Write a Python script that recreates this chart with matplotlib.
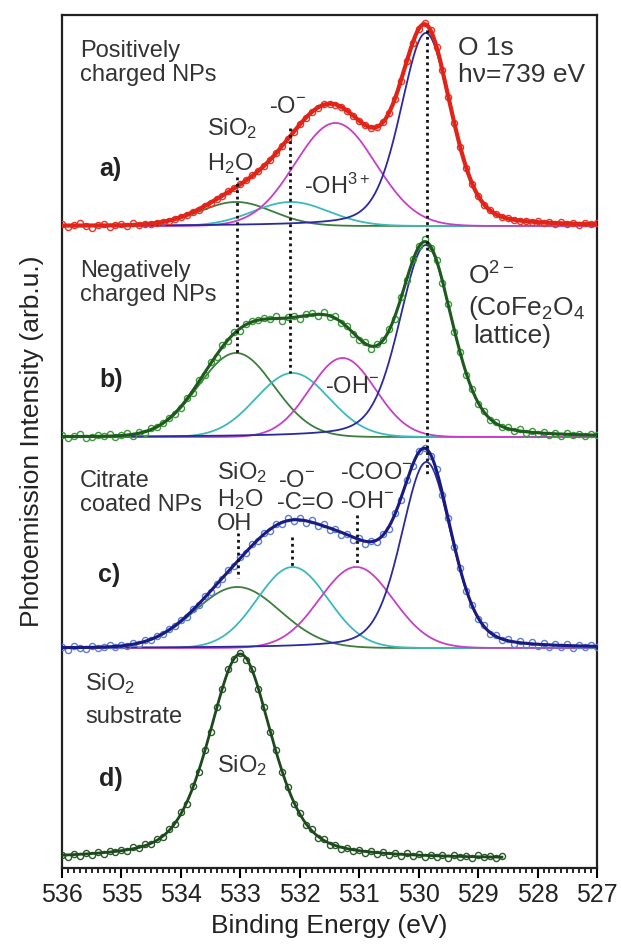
import numpy as np
import matplotlib
matplotlib.use('Agg')
import matplotlib.pyplot as plt
from matplotlib.ticker import MultipleLocator

plt.rcParams['font.family'] = ['Liberation Sans', 'DejaVu Sans']
plt.rcParams['mathtext.fontset'] = 'custom'
plt.rcParams['mathtext.rm'] = 'Liberation Sans'
plt.rcParams['mathtext.it'] = 'Liberation Sans:italic'
plt.rcParams['mathtext.bf'] = 'Liberation Sans:bold'

# measured O 1s spectra, 0.1 eV steps from 536.0 eV down
energy = np.linspace(536.0, 527.0, 91)
energy_d = np.linspace(536.0, 528.6, 75)

data_a = [2, -1, 1, 3, 0, -2, 1, 2, -1, 1,
          2, 0, 3, 1, 2, 2, 3, 4, 5, 7,
          9, 11, 14, 16, 20, 23, 27, 30, 35, 38,
          42, 46, 51, 55, 60, 66, 73, 80, 87, 94,
          102, 108, 114, 118, 122, 122, 121, 119, 115, 110,
          105, 101, 98, 99, 104, 113, 127, 145, 165, 183,
          197, 203, 196, 179, 156, 129, 103, 79, 58, 42,
          30, 21, 16, 12, 9, 8, 6, 5, 5, 4,
          5, 3, 4, 2, 4, 2, 3, 1, 3, 2,
          3]
data_b = [2, -1, 1, 3, -1, 0, 2, 1, 3, 0,
          2, 4, 1, 5, 4, 9, 10, 14, 19, 23,
          29, 39, 44, 57, 62, 75, 80, 92, 96, 105,
          106, 113, 116, 117, 119, 118, 121, 116, 120, 121,
          118, 123, 124, 121, 125, 120, 121, 114, 111, 103,
          97, 95, 88, 93, 97, 108, 118, 140, 157, 178,
          191, 198, 189, 177, 154, 133, 105, 85, 62, 48,
          33, 26, 17, 15, 10, 10, 6, 8, 4, 6,
          3, 5, 2, 4, 1, 4, 2, 3, 1, 3,
          2]
data_c = [1, -2, 2, 0, -1, 2, 0, 1, 3, 1,
          3, 2, 5, 4, 8, 8, 12, 14, 19, 22,
          28, 31, 39, 43, 52, 56, 64, 69, 78, 82,
          91, 95, 104, 107, 115, 117, 124, 124, 130, 127,
          130, 125, 128, 122, 124, 118, 119, 113, 114, 108,
          110, 104, 107, 106, 114, 119, 135, 148, 168, 182,
          197, 200, 192, 179, 153, 130, 101, 80, 57, 43,
          29, 23, 14, 13, 8, 9, 4, 7, 3, 6,
          2, 5, 1, 4, 1, 4, 0, 3, 1, 3,
          1]
data_d = [4, 2, 5, 3, 6, 4, 7, 5, 8, 7,
          9, 8, 12, 11, 15, 15, 20, 22, 30, 35,
          47, 55, 73, 87, 109, 127, 152, 170, 190, 200,
          206, 199, 190, 170, 152, 127, 109, 87, 72, 55,
          46, 34, 30, 21, 20, 14, 14, 10, 11, 8,
          9, 6, 8, 5, 7, 4, 6, 3, 6, 3,
          5, 2, 4, 2, 4, 1, 4, 2, 3, 1,
          4, 2, 3, 1, 3]

# fitted components: SiO2/H2O, -O-, -OH, O2- lattice
centers_a = [533.07, 532.15, 531.40, 529.88]
heights_a = [24, 24, 103, 193]
fwhm_a = [1.45, 1.5, 1.6, 1.0]
centers_b = [533.07, 532.12, 531.28, 529.88]
heights_b = [84, 64, 79, 192]
fwhm_b = [1.5, 1.45, 1.3, 1.05]
centers_c = [533.05, 532.12, 531.05, 529.87]
heights_c = [61, 81, 81, 186]
fwhm_c = [1.7, 1.4, 1.45, 1.0]
lorentz_frac = [0, 0, 0, 0.3]
center_d, height_d, fwhm_d, lorentz_d = 533.0, 205, 1.25, 0.45

offsets = [642, 431, 220, 9]
comp_colors = ['#3d7d3d', '#3cb9b9', '#c63fc6', '#2a2a9e']


def pvoigt(x, c, h, w, eta):
    t = (x - c) / w
    return h * ((1 - eta) * np.exp(-4 * np.log(2) * t ** 2) + eta / (1 + 4 * t ** 2))


fig = plt.figure(figsize=(6.21, 9.48), dpi=100)
ax = fig.add_axes([0.0998, 0.0844, 0.8616, 0.8998])
xf = np.linspace(527.0, 536.0, 901)

panels = [(data_a, centers_a, heights_a, fwhm_a, '#e8342a', '#e02418', 3.0),
          (data_b, centers_b, heights_b, fwhm_b, '#3a9a3a', '#1e5a1e', 2.2),
          (data_c, centers_c, heights_c, fwhm_c, '#5b7fd6', '#1a1a80', 2.2)]
for (data, cen, hgt, fw, dcol, fcol, flw), off in zip(panels, offsets):
    total = np.zeros_like(xf)
    for k in range(4):
        comp = pvoigt(xf, cen[k], hgt[k], fw[k], lorentz_frac[k])
        total += comp
        ax.plot(xf, off + comp, color=comp_colors[k], lw=1.3, zorder=2)
    ax.plot(energy, off + np.array(data), 'o', mfc='none', mec=dcol, ms=4.4, mew=1.0, zorder=3)
    ax.plot(xf, off + total, color=fcol, lw=flw, zorder=4)

xd = np.linspace(528.6, 536.0, 741)
ax.plot(energy_d, offsets[3] + np.array(data_d), 'o', mfc='none', mec='#2b5a2b', ms=4.4, mew=1.0, zorder=3)
ax.plot(xd, offsets[3] + pvoigt(xd, center_d, height_d, fwhm_d, lorentz_d), color='#1c4a1c', lw=2.0, zorder=4)

# dotted guide lines
dot = dict(color='#111111', lw=2.0, linestyle=(0, (1, 1.3)), zorder=5)
ax.plot([533.05, 533.05], [691, 515], **dot)
ax.plot([532.16, 532.16], [740, 495], **dot)
ax.plot([529.86, 529.86], [838, 392], **dot)
ax.plot([533.04, 533.04], [335, 290], **dot)
ax.plot([532.13, 532.13], [331, 301], **dot)
ax.plot([531.04, 531.04], [353, 305], **dot)

tc = '#333333'
fs = 17
# panel a
ax.text(535.70, 828, 'Positively\ncharged NPs', fontsize=fs, color=tc, va='top', ha='left', linespacing=1.1)
ax.text(529.34, 832, 'O 1s\nh\u03bd=739 eV', fontsize=19, color=tc, va='top', ha='left', linespacing=1.14)
ax.text(533.56, 752, 'SiO$_2$', fontsize=fs, color=tc, va='top', ha='left')
ax.text(533.56, 717, 'H$_2$O', fontsize=fs, color=tc, va='top', ha='left')
ax.text(532.21, 772, '-O$^{-}$', fontsize=fs, color=tc, va='top', ha='center')
ax.text(531.93, 674, '-OH$^{3+}$', fontsize=fs, color=tc, va='baseline', ha='left')
ax.text(535.18, 699, 'a)', fontsize=18, color='#222222', weight='bold', va='center', ha='center')
# panel b
ax.text(535.70, 608, 'Negatively\ncharged NPs', fontsize=fs, color=tc, va='top', ha='left', linespacing=1.1)
ax.text(529.17, 606, 'O$^{2-}$', fontsize=19, color=tc, va='top', ha='left')
ax.text(529.17, 574, '(CoFe$_2$O$_4$', fontsize=19, color=tc, va='top', ha='left')
ax.text(529.09, 544, 'lattice)', fontsize=19, color=tc, va='top', ha='left')
ax.text(531.58, 475, '-OH$^{-}$', fontsize=fs, color=tc, va='baseline', ha='left')
ax.text(535.17, 488, 'b)', fontsize=18, color='#222222', weight='bold', va='center', ha='center')
# panel c
ax.text(535.70, 398, 'Citrate\ncoated NPs', fontsize=fs, color=tc, va='top', ha='left', linespacing=1.1)
ax.text(533.39, 408, 'SiO$_2$', fontsize=fs, color=tc, va='top', ha='left')
ax.text(533.39, 381, 'H$_2$O', fontsize=fs, color=tc, va='top', ha='left')
ax.text(533.39, 355, 'OH', fontsize=fs, color=tc, va='top', ha='left')
ax.text(532.05, 398, '-O$^{-}$', fontsize=fs, color=tc, va='top', ha='center')
ax.text(531.90, 376, '-C=O', fontsize=fs, color=tc, va='top', ha='center')
ax.text(531.32, 406, '-COO$^{-}$', fontsize=fs, color=tc, va='top', ha='left')
ax.text(531.32, 377, '-OH$^{-}$', fontsize=fs, color=tc, va='top', ha='left')
ax.text(535.21, 293, 'c)', fontsize=18, color='#222222', weight='bold', va='center', ha='center')
# panel d
ax.text(535.61, 197, 'SiO$_2$', fontsize=fs, color=tc, va='top', ha='left')
ax.text(535.61, 162, 'substrate', fontsize=fs, color=tc, va='top', ha='left')
ax.text(532.97, 102, 'SiO$_2$', fontsize=fs, color=tc, va='center', ha='center')
ax.text(535.18, 89, 'd)', fontsize=18, color='#222222', weight='bold', va='center', ha='center')

ax.set_xlim(536, 527)
ax.set_ylim(0, 853)
ax.set_yticks([])
ax.xaxis.set_major_locator(MultipleLocator(1))
ax.xaxis.set_minor_locator(MultipleLocator(0.1))
ax.tick_params(axis='x', which='major', direction='out', length=7, width=1.5, labelsize=18, pad=4, labelcolor='#222222')
ax.tick_params(axis='x', which='minor', direction='out', length=3.5, width=1.2)
for s in ax.spines.values():
    s.set_linewidth(1.6)
    s.set_color('#222222')
ax.set_xlabel('Binding Energy (eV)', fontsize=19, color='#222222', labelpad=5)
ax.set_ylabel('Photoemission Intensity (arb.u.)', fontsize=19, color='#222222', labelpad=13)

fig.savefig('out.png', dpi=100)
